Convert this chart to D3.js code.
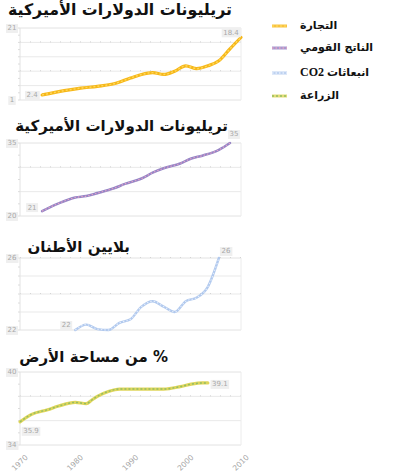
<!DOCTYPE html>
<html><head><meta charset="utf-8">
<script src="https://cdn.jsdelivr.net/npm/d3@7"></script>
<style>
html,body{margin:0;padding:0;background:#fff;}
svg{display:block;}
</style></head>
<body>
<svg id="chart" width="401" height="473"></svg>
<script>
// ---------- data ----------
const xTickYears = [1970, 1980, 1990, 2000, 2010];
const xTickLabels = ["1970", "1980", "1990", "2000", "2010"];

const tradeYears = [1974, 1978, 1981, 1984, 1987, 1990, 1992, 1994, 1996, 1998, 2000, 2002, 2004, 2006, 2008, 2010];
const tradeValues = [2.4, 3.6, 4.3, 4.8, 5.5, 7.1, 8.1, 8.6, 8.1, 9.0, 10.5, 9.7, 10.5, 11.9, 15.2, 18.4];

const gdpYears = [1974, 1977, 1980, 1982, 1984, 1987, 1989, 1992, 1994, 1996, 1999, 2001, 2003, 2006, 2008];
const gdpValues = [21.0, 22.6, 23.8, 24.1, 24.7, 25.7, 26.6, 27.7, 28.9, 29.8, 30.8, 31.8, 32.4, 33.6, 35.0];

const co2Years = [1980, 1982, 1984, 1986, 1988, 1990, 1992, 1994, 1996, 1998, 2000, 2002, 2004, 2006];
const co2Values = [22.0, 22.3, 22.05, 22.0, 22.4, 22.6, 23.3, 23.6, 23.3, 23.0, 23.6, 23.8, 24.4, 26.0];

const agriYears = [1970, 1972, 1975, 1977, 1980, 1982, 1983, 1984, 1986, 1988, 1990, 1993, 1996, 1999, 2001, 2003, 2004];
const agriValues = [35.9, 36.5, 36.9, 37.2, 37.5, 37.4, 37.7, 38.0, 38.4, 38.6, 38.6, 38.6, 38.6, 38.8, 39.0, 39.1, 39.1];

const panelTitles = ["تريليونات الدولارات الأميركية", "تريليونات الدولارات الأميركية", "بلايين الأطنان", "% من مساحة الأرض"];
const yDomains = [[1, 21], [20, 35], [22, 26], [34, 40]];
const yAxisLabels = [["21", "1"], ["35", "20"], ["26", "22"], ["40", "34"]];
const gridCounts = [5, 3, 4, 3];
const startLabels = ["2.4", "21", "22", "35.9"];
const endLabels = ["18.4", "35", "26", "39.1"];

const legendNames = ["التجارة", "الناتج القومي", "انبعاثات", "الزراعة"];

// ---------- layout / style ----------
const series = [
  {years: tradeYears, values: tradeValues, base: "#f5b000", over: "#ffd65a", w: 3.2, dash: "2,2"},
  {years: gdpYears, values: gdpValues, base: "#8a78c0", over: "#e3a2c6", w: 2.6, dash: "1.5,2"},
  {years: co2Years, values: co2Values, base: "#a9c3ec", over: "#e6eefb", w: 2.4, dash: "1.5,2"},
  {years: agriYears, values: agriValues, base: "#dcd24a", over: "#93bd62", w: 3.2, dash: "2,2"}
];
const panels = [
  {top: 28, bottom: 100, titleY: 15, titleX: 232, sOff: [-10, 0], eOff: [-10, -5], titleSize: 15.8},
  {top: 143, bottom: 216, titleY: 131, titleX: 228, sOff: [-10, -4], eOff: [4, -9], titleSize: 15},
  {top: 258, bottom: 330, titleY: 252, titleX: 130, sOff: [-9, -5], eOff: [7, -7], titleSize: 15},
  {top: 372, bottom: 445, titleY: 362, titleX: 168, sOff: [11, 9], eOff: [12, 1], titleSize: 15}
];
const left = 20, right = 241;
const font = "'DejaVu Sans', sans-serif";

const svg = d3.select("#chart");
const x = d3.scaleLinear().domain([1970, 2010]).range([left, right]);

function boxLabel(g, tx, ty, text, anchor) {
  const t = g.append("text").attr("x", tx).attr("y", ty).attr("dy", "0.35em")
    .attr("text-anchor", anchor || "middle").attr("font-family", font)
    .attr("font-size", 7).attr("fill", "#a8a8a8").text(text);
  const bb = t.node().getBBox();
  g.insert("rect", () => t.node())
    .attr("x", bb.x - 1.5).attr("y", bb.y - 0.5)
    .attr("width", bb.width + 3).attr("height", bb.height + 1)
    .attr("fill", "#efefef");
}

panels.forEach((p, i) => {
  const s = series[i];
  const g = svg.append("g");
  const y = d3.scaleLinear().domain(yDomains[i]).range([p.bottom, p.top]);

  // title
  g.append("text").attr("x", p.titleX).attr("y", p.titleY)
    .attr("direction", "rtl").attr("text-anchor", "start")
    .attr("font-family", font).attr("font-weight", "bold")
    .attr("font-size", p.titleSize).attr("fill", "#111").text(panelTitles[i]);

  // gridlines
  const [d0, d1] = yDomains[i];
  const step = (d1 - d0) / gridCounts[i];
  const gv = d3.range(gridCounts[i] + 1).map(k => d0 + k * step);
  gv.forEach((v, k) => {
    const isEdge = (k === 0 || k === gridCounts[i]);
    g.append("line").attr("x1", left).attr("x2", right)
      .attr("y1", y(v)).attr("y2", y(v))
      .attr("stroke", isEdge ? "#e2e2e2" : "#e9e9e9").attr("stroke-width", 1);
    if (k % 2 === 0 && k !== 0) {
      g.append("line").attr("x1", left).attr("x2", right)
        .attr("y1", y(v) - 0.5).attr("y2", y(v) - 0.5)
        .attr("stroke", "#d4d4d4").attr("stroke-width", 1).attr("stroke-dasharray", "1,9");
    }
  });
  // border
  g.append("line").attr("x1", left).attr("x2", left).attr("y1", p.top).attr("y2", p.bottom)
    .attr("stroke", "#e2e2e2");
  g.append("line").attr("x1", right).attr("x2", right).attr("y1", p.top).attr("y2", p.bottom)
    .attr("stroke", "#ececec");
  // minor left ticks
  d3.range(gridCounts[i] * 2 + 1).forEach(k => {
    const v = d0 + k * step / 2;
    g.append("line").attr("x1", left - 2).attr("x2", left).attr("y1", y(v)).attr("y2", y(v))
      .attr("stroke", "#dcdcdc");
  });

  // y labels (top/bottom)
  boxLabel(g, 12, p.top, yAxisLabels[i][0]);
  boxLabel(g, 12, p.bottom, yAxisLabels[i][1]);

  // line
  const line = d3.line().x((d, j) => x(s.years[j])).y(d => y(d)).curve(d3.curveMonotoneX);
  g.append("path").datum(s.values).attr("d", line).attr("fill", "none")
    .attr("stroke", s.base).attr("stroke-width", s.w).attr("stroke-linecap", "round")
    .attr("stroke-linejoin", "round").attr("opacity", 0.9);
  g.append("path").datum(s.values).attr("d", line).attr("fill", "none")
    .attr("stroke", s.over).attr("stroke-width", s.w * 0.45)
    .attr("stroke-dasharray", s.dash);

  // value labels
  const n = s.values.length;
  boxLabel(g, x(s.years[0]) + p.sOff[0], y(s.values[0]) + p.sOff[1], startLabels[i]);
  boxLabel(g, x(s.years[n - 1]) + p.eOff[0], y(s.values[n - 1]) + p.eOff[1], endLabels[i]);

  // x axis only on last panel
  if (i === panels.length - 1) {
    const ax = svg.append("g").attr("transform", `translate(0,${p.bottom})`)
      .call(d3.axisBottom(x).tickValues(xTickYears).tickFormat((d, j) => xTickLabels[j])
        .tickSize(0).tickPadding(0));
    ax.select(".domain").remove();
    ax.selectAll("text").attr("font-family", font).attr("font-size", 7.5).attr("fill", "#a5a5a5")
      .attr("text-anchor", "end").attr("dy", "0.35em")
      .attr("transform", "translate(6,11) rotate(-45)");
  }
});

// ---------- legend ----------
const lg = svg.append("g");
const legendY = [25, 47, 72, 95];
legendNames.forEach((name, i) => {
  const s = series[i];
  lg.append("line").attr("x1", 272).attr("x2", 287).attr("y1", legendY[i] + 1).attr("y2", legendY[i] + 1)
    .attr("stroke", s.base).attr("stroke-width", 3).attr("opacity", 0.75);
  lg.append("line").attr("x1", 272).attr("x2", 287).attr("y1", legendY[i] + 1).attr("y2", legendY[i] + 1)
    .attr("stroke", s.over).attr("stroke-width", 1.3).attr("stroke-dasharray", s.dash);
  const t = lg.append("text").attr("x", 300).attr("y", legendY[i]).attr("dy", "0.35em")
    .attr("direction", "rtl").attr("text-anchor", "end")
    .attr("font-family", font).attr("font-weight", "bold").attr("font-size", 11).attr("fill", "#111");
  t.append("tspan").text(name);
  if (i === 2) {
    t.append("tspan").text(" CO2").attr("font-family", "'Liberation Serif', serif").attr("font-size", 12);
  }
});
</script>
</body></html>
